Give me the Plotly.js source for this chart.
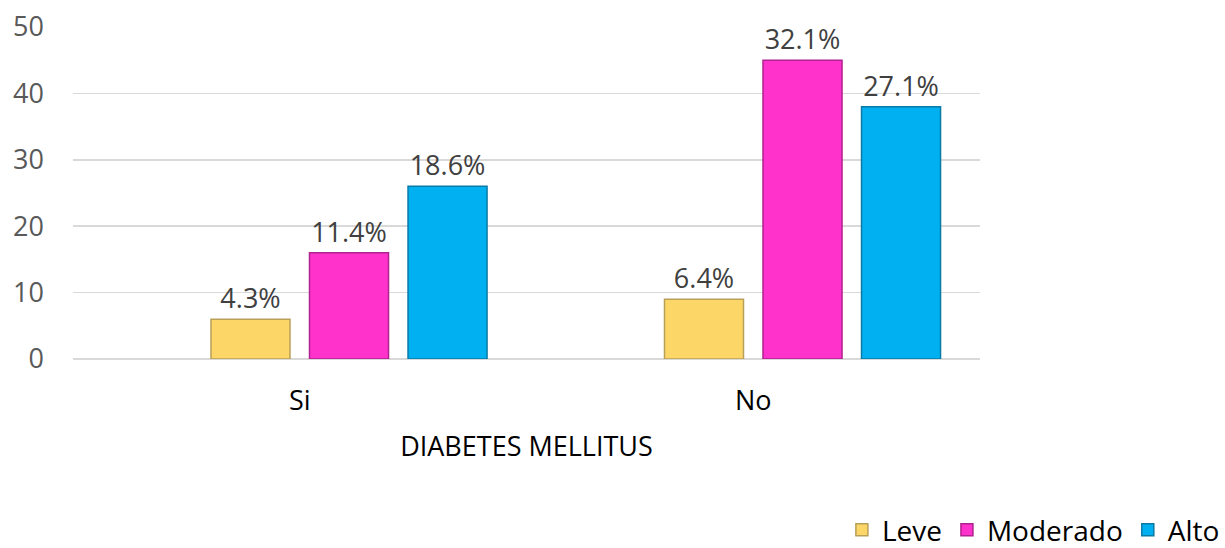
<!DOCTYPE html>
<html><head><meta charset="utf-8">
<script src="https://cdn.plot.ly/plotly-3.0.1.min.js"></script>
<style>body{margin:0;background:#fff}#c{width:1225px;height:548px}</style>
</head><body><div id="c"></div>
<script>
var categories = ["Si", "No"];
var leve = [6, 9];
var moderado = [16, 45];
var alto = [26, 38];
var leveLabels = ["4.3%", "6.4%"];
var moderadoLabels = ["11.4%", "32.1%"];
var altoLabels = ["18.6%", "27.1%"];
var yTicks = [0, 10, 20, 30, 40, 50];

var FONT = "Open Sans, Liberation Sans, sans-serif";
var labelFont = {family: FONT, size: 27, color: "#404040"};
function bar(name, y, txt, color, edge) {
  return {type: "bar", name: name, x: categories, y: y, text: txt,
    textposition: "outside", textfont: labelFont, cliponaxis: false,
    marker: {color: color, line: {color: edge, width: 1.5}},
    hoverinfo: "skip"};
}
var data = [
  {type: "bar", name: "", x: categories, y: [null, null], showlegend: false, hoverinfo: "skip"},
  bar("Leve", leve, leveLabels, "#FCD667", "#b9a058"),
  bar("Moderado", moderado, moderadoLabels, "#FF33CC", "#b0228f"),
  bar("Alto", alto, altoLabels, "#00B0F0", "#0a7aa6")
];
var layout = {
  width: 1225, height: 548,
  margin: {l: 73, r: 245, t: 27, b: 189, autoexpand: false},
  paper_bgcolor: "#fff", plot_bgcolor: "#fff",
  barmode: "group", bargap: 0.131, bargroupgap: 0.198,
  font: {family: FONT},
  xaxis: {
    automargin: false,
    tickfont: {size: 27, color: "#000"}, showgrid: false, showline: false, ticks: "",
    ticklabelstandoff: 23,
    title: {text: "DIABETES MELLITUS", font: {size: 27, color: "#000"}, standoff: 20}
  },
  yaxis: {
    automargin: false,
    range: [0, 50], tickvals: yTicks, gridcolor: "#d9d9d9", gridwidth: 1.5,
    zeroline: true, zerolinecolor: "#d9d9d9", zerolinewidth: 2.5,
    tickfont: {size: 27, color: "#595959"}, ticks: "", ticklabelstandoff: 28, fixedrange: true
  },
  showlegend: true,
  legend: {orientation: "h", x: 1.27, xanchor: "right", y: -0.515, yanchor: "middle",
    font: {size: 28, color: "#000"}, traceorder: "normal", itemwidth: 30}
};
Plotly.newPlot("c", data, layout, {displayModeBar: false, staticPlot: true});
</script></body></html>
